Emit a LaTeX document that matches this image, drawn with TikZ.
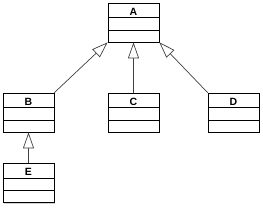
\documentclass[tikz,border=0pt]{standalone}
\usepackage{fontspec}
\setsansfont{Liberation Sans}
\usetikzlibrary{arrows.meta,shadows}

\begin{document}
\begin{tikzpicture}[
        x=1pt, y=-1pt,
        % class box: name row + two empty rows
        cls/.style={
            rectangle, draw, line width=0.7pt, fill=white,
            minimum width=51pt, inner sep=0pt,
            text height=12pt, text depth=27pt,
            font=\sffamily\bfseries\fontsize{10.5}{12}\selectfont,
            drop shadow={shadow xshift=1pt, shadow yshift=-1pt, opacity=0.35},
            path picture={
                \draw[line width=0.7pt]
                    ([yshift=-14.5pt]path picture bounding box.north west) --
                    ([yshift=-14.5pt]path picture bounding box.north east);
                \draw[line width=0.7pt]
                    ([yshift=-27pt]path picture bounding box.north west) --
                    ([yshift=-27pt]path picture bounding box.north east);
            }
        },
        % inheritance arrow
        inh/.style={
            draw=black!75, line width=0.7pt,
            -{Triangle[open, length=16pt, width=11pt, fill=white]}
        }
    ]
    \useasboundingbox (0,0) rectangle (263,209);

    % classes
    \node[cls] (A) at (133.5, 22.5) {A};
    \node[cls] (B) at (28.5, 112.5) {B};
    \node[cls] (C) at (133.5, 112.5) {C};
    \node[cls] (D) at (233.5, 112.5) {D};
    \node[cls] (E) at (28.5, 183) {E};

    % generalisations
    \draw[inh] (B.north east) -- (A.south west);
    \draw[inh] (C.north) -- (A.south);
    \draw[inh] (D.north west) -- (A.south east);
    \draw[inh] (E.north) -- (B.south);
\end{tikzpicture}
\end{document}
